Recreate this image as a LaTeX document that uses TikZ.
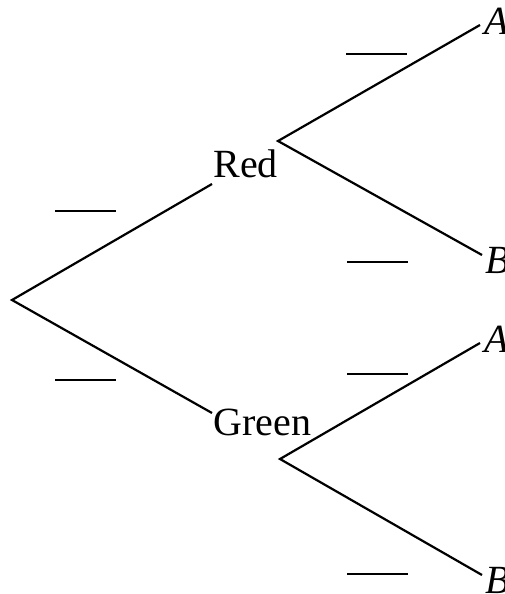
\documentclass[tikz,border=0pt]{standalone}
\usepackage{fontspec}
\setmainfont{Liberation Serif}
\usetikzlibrary{positioning}

\begin{document}
\begin{tikzpicture}[x=0.5pt, y=-0.5pt,
    branch/.style={line width=1.1pt},
    gap/.style={line width=1pt},
    word/.style={font=\fontsize{20}{24}\selectfont, inner sep=0pt, anchor=base west},
    leaf/.style={word, font=\fontsize{20}{24}\selectfont\itshape},
  ]
  \useasboundingbox (0,0) rectangle (504,594);

  % root, colours and branching points
  \coordinate (root) at (12,300);
  \node[word] (red) at (213,177) {Red};
  \node[word] (green) at (213,435) {Green};
  \coordinate (rv) at (278,141);
  \coordinate (gv) at (280,459);

  % outcomes, cut by the right edge
  \node[leaf] (a1) at (484,34) {A};
  \node[leaf] (b1) at (485,273) {B};
  \node[leaf] (a2) at (484,352) {A};
  \node[leaf] (b2) at (485,593) {B};

  % branches
  \draw[branch] ([shift={(-1,7)}]red.base west) -- (root) -- ([shift={(-1,-22)}]green.base west);
  \draw[branch] ([shift={(-4,-9)}]a1.base west) -- (rv) -- ([shift={(-3,-18)}]b1.base west);
  \draw[branch] ([shift={(-4,-9)}]a2.base west) -- (gv) -- ([shift={(-3,-18)}]b2.base west);

  % blanks for the probabilities
  \foreach \x/\y in {55/211, 55/380, 346/54, 347/262, 347/374, 347/574}
    \draw[gap] (\x,\y) -- ++(61,0);
\end{tikzpicture}
\end{document}
